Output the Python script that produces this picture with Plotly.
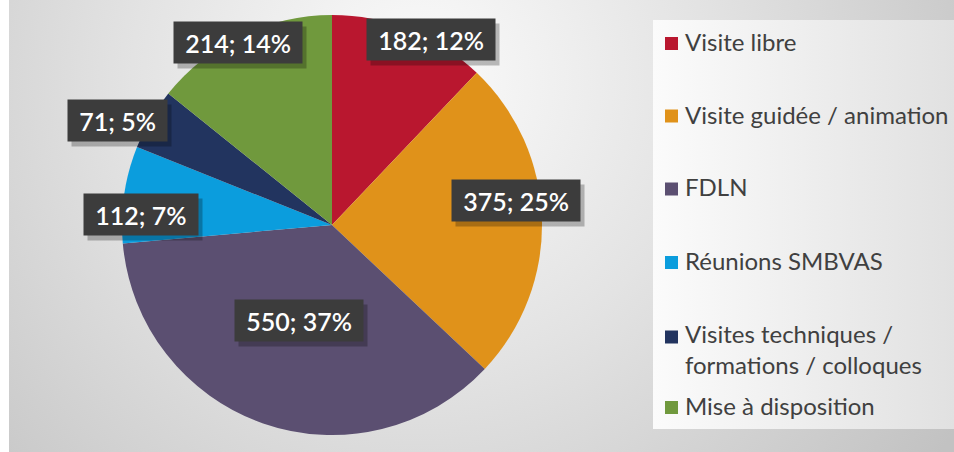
import base64, math
import plotly.graph_objects as go

categories = ["Visite libre", "Visite guidée / animation", "FDLN", "Réunions SMBVAS",
              "Visites techniques /<br>formations / colloques", "Mise à disposition"]
values = [182, 375, 550, 112, 71, 214]
colors = ["#B9172F", "#E0921A", "#5B4F71", "#0B9DDD", "#22345F", "#70993D"]

# label placement style: radial fraction and small pixel nudges
label_frac = [0.95, 0.877, 0.48, 0.919, 1.1, 0.966]
label_dx = [25, 0, 0, 0, -15, -6]
label_dy = [0, -19, 0, 18, 12, 0]

# legend layout style (pixels)
legend_y = [43.5, 116, 189, 262.5, 337, 407.5]
LEG_SQ_X, LEG_SQ, LEG_TX = 665, 13, 684

W, H = 954, 452
CX, CY, R = 332, 225, 210
LBL_SIZE = 25
CHAR_EM = {";": 0.26, " ": 0.19, "%": 0.82}

svg = f'''<svg xmlns="http://www.w3.org/2000/svg" width="{W}" height="{H}" viewBox="0 0 {W} {H}">
<defs>
<radialGradient id="bg" gradientUnits="userSpaceOnUse" cx="420" cy="80" r="640">
<stop offset="0" stop-color="#fbfbfb"/><stop offset="0.45" stop-color="#e3e3e3"/><stop offset="1" stop-color="#c2c2c2"/>
</radialGradient>
<linearGradient id="lg" x1="0" y1="0" x2="1" y2="0">
<stop offset="0" stop-color="#fbfbfb"/><stop offset="1" stop-color="#e1e1e1"/>
</linearGradient>
</defs>
<rect x="0" y="0" width="{W}" height="{H}" fill="#ffffff"/>
<rect x="9" y="0" width="{W-9}" height="{H}" fill="url(#bg)"/>
<rect x="653" y="20" width="{W-653}" height="409" fill="url(#lg)"/>
</svg>'''
src = "data:image/svg+xml;base64," + base64.b64encode(svg.encode()).decode()

fig = go.Figure(go.Pie(
    labels=categories, values=values, sort=False, direction="clockwise",
    marker=dict(colors=colors, line=dict(width=0)),
    textinfo="none", hoverinfo="label+value+percent", showlegend=False,
    domain=dict(x=[(CX - R) / W, (CX + R) / W], y=[1 - (CY + R) / H, 1 - (CY - R) / H]),
))

total = sum(values)
cum = 0
annotations = []
shapes = []
for i, v in enumerate(values):
    mid = (cum + v / 2) / total * 2 * math.pi
    cum += v
    px = CX + label_frac[i] * R * math.sin(mid) + label_dx[i]
    py = CY - label_frac[i] * R * math.cos(mid) + label_dy[i]
    pct = round(v / total * 100)
    txt = f"{v}; {pct}%"
    tw = sum(CHAR_EM.get(c, 0.58) for c in txt) * LBL_SIZE + 12
    common = dict(x=px / W, y=1 - py / H, xref="paper", yref="paper", showarrow=False,
                  borderpad=6, xanchor="center", yanchor="middle", width=tw, height=29)
    annotations.append(dict(text="&nbsp;", font=dict(family="Lato", size=LBL_SIZE),
                            bgcolor="rgba(0,0,0,0.25)", xshift=4, yshift=-5, **common))
    annotations.append(dict(text=txt, font=dict(family="Lato", size=LBL_SIZE, weight=600, color="#ffffff"),
                            bgcolor="#3c3c3c", **common))

# legend (drawn as shapes + text)
for i, (cat, col) in enumerate(zip(categories, colors)):
    ly = legend_y[i]
    shapes.append(dict(type="rect", xref="paper", yref="paper",
                       x0=LEG_SQ_X / W, x1=(LEG_SQ_X + LEG_SQ) / W,
                       y0=1 - (ly + LEG_SQ / 2) / H, y1=1 - (ly - LEG_SQ / 2) / H,
                       fillcolor=col, line=dict(width=0), layer="above"))
    nlines = cat.count("<br>")
    annotations.append(dict(text=cat, x=LEG_TX / W, y=1 - (ly - 2) / H, xref="paper", yref="paper",
                            showarrow=False, xanchor="left", yanchor="top" if nlines else "middle",
                            yshift=31.2 / 2 * (1 if nlines else 0) + (1 if nlines else 0),
                            align="left", borderpad=0,
                            font=dict(family="Lato", size=24, color="#404040")))

fig.update_layout(
    width=W, height=H, margin=dict(l=0, r=0, t=0, b=0, autoexpand=False),
    paper_bgcolor="#ffffff", plot_bgcolor="rgba(0,0,0,0)",
    images=[dict(source=src, xref="paper", yref="paper", x=0, y=1, sizex=1, sizey=1,
                 xanchor="left", yanchor="top", sizing="stretch", layer="below")],
    annotations=annotations, shapes=shapes,
    showlegend=False,
)
fig.write_html("out.html", config={"displayModeBar": False},
               post_script="document.body.style.margin='0';document.body.style.overflow='hidden';")
